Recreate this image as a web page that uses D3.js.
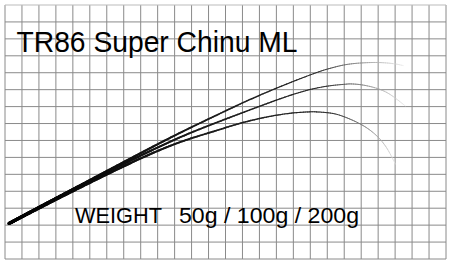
<!DOCTYPE html>
<html><head><meta charset="utf-8">
<script src="https://cdn.jsdelivr.net/npm/d3@7"></script>
<style>html,body{margin:0;padding:0;background:#fff;}svg{display:block;}</style>
</head><body>
<svg id="c" width="450" height="263"></svg>
<script>
// ---- data (grid units: 26 columns x 15 rows; 1 unit = one grid cell) ----
const title = "TR86 Super Chinu ML";
const weightLabel = "WEIGHT";
const weights = ["50g", "100g", "200g"];
const gridCols = 26, gridRows = 15;
const curve50 = [[0.24,2.10],[4.42,4.34],[9.14,6.85],[12.09,8.31],[15.04,9.68],[17.99,10.87],[19.17,11.26],[20.05,11.47],[21.06,11.58],[22.12,11.60],[23.0,11.52],[23.48,11.42]];
const curve100 = [[0.24,2.10],[4.42,4.32],[9.14,6.65],[12.09,7.91],[15.04,9.03],[17.99,10.01],[19.94,10.31],[20.35,10.34],[21.06,10.28],[22.12,10.01],[22.89,9.59],[23.6,9.04]];
const curve200 = [[0.24,2.10],[4.42,4.22],[9.14,6.44],[12.09,7.47],[14.04,8.06],[16.05,8.50],[17.40,8.66],[18.29,8.69],[19.17,8.62],[19.94,8.42],[21.06,7.91],[21.95,7.24],[22.54,6.50],[23.01,5.61]];
const curves = [curve50, curve100, curve200];

const svg = d3.select("#c");
const x = d3.scaleLinear().domain([0, gridCols]).range([5, 446]);
const y = d3.scaleLinear().domain([0, gridRows]).range([259, 5]);

// grid
const g = svg.append("g");
g.selectAll("line.v").data(d3.range(0, gridCols + 1)).join("line")
  .attr("x1", d => x(d)).attr("x2", d => x(d))
  .attr("y1", y(0)).attr("y2", y(gridRows))
  .attr("stroke", "#8a8a8a").attr("stroke-width", 1);
g.selectAll("line.h").data(d3.range(0, gridRows + 1)).join("line")
  .attr("y1", d => y(d)).attr("y2", d => y(d))
  .attr("x1", x(0)).attr("x2", x(gridCols))
  .attr("stroke", d => d === gridRows ? "#bbb" : "#8a8a8a").attr("stroke-width", 1);

// curves with tapering width and fading tip
const line = d3.line().x(d => x(d[0])).y(d => y(d[1])).curve(d3.curveNatural);
const colA = d3.interpolateRgb("#000", "#2a2a2a");
const colB = d3.interpolateRgb("#2a2a2a", "#e6e6e6");
curves.forEach(pts => {
  const tmp = svg.append("path").attr("d", line(pts)).attr("fill", "none").attr("stroke", "none");
  const node = tmp.node();
  const L = node.getTotalLength();
  const N = 240;
  const samples = d3.range(N + 1).map(i => node.getPointAtLength(L * i / N));
  tmp.remove();
  const cg = svg.append("g");
  for (let i = 0; i < N; i++) {
    const t = (i + 0.5) / N;
    const w = 0.6 + 2.6 * Math.pow(1 - t, 1.2);
    const c = t < 0.8 ? colA(t / 0.8) : colB((t - 0.8) / 0.2);
    cg.append("line")
      .attr("x1", samples[i].x).attr("y1", samples[i].y)
      .attr("x2", samples[i + 1].x).attr("y2", samples[i + 1].y)
      .attr("stroke", c).attr("stroke-width", w).attr("stroke-linecap", "round");
  }
});

// texts
svg.append("text").attr("x", 16.5).attr("y", 51.5)
  .attr("font-family", "Liberation Sans, Arial, Helvetica, sans-serif")
  .attr("font-size", 30).attr("fill", "#000")
  .attr("textLength", 281).attr("lengthAdjust", "spacingAndGlyphs")
  .text(title);
svg.append("text").attr("x", 75).attr("y", 222.5)
  .attr("font-family", "Liberation Sans, Arial, Helvetica, sans-serif")
  .attr("font-size", 22).attr("fill", "#000")
  .attr("textLength", 87).attr("lengthAdjust", "spacingAndGlyphs")
  .text(weightLabel);
svg.append("text").attr("x", 179).attr("y", 222.5)
  .attr("font-family", "Liberation Sans, Arial, Helvetica, sans-serif")
  .attr("font-size", 22).attr("fill", "#000")
  .attr("textLength", 180).attr("lengthAdjust", "spacingAndGlyphs")
  .text(weights.join(" / "));
</script>
</body></html>
